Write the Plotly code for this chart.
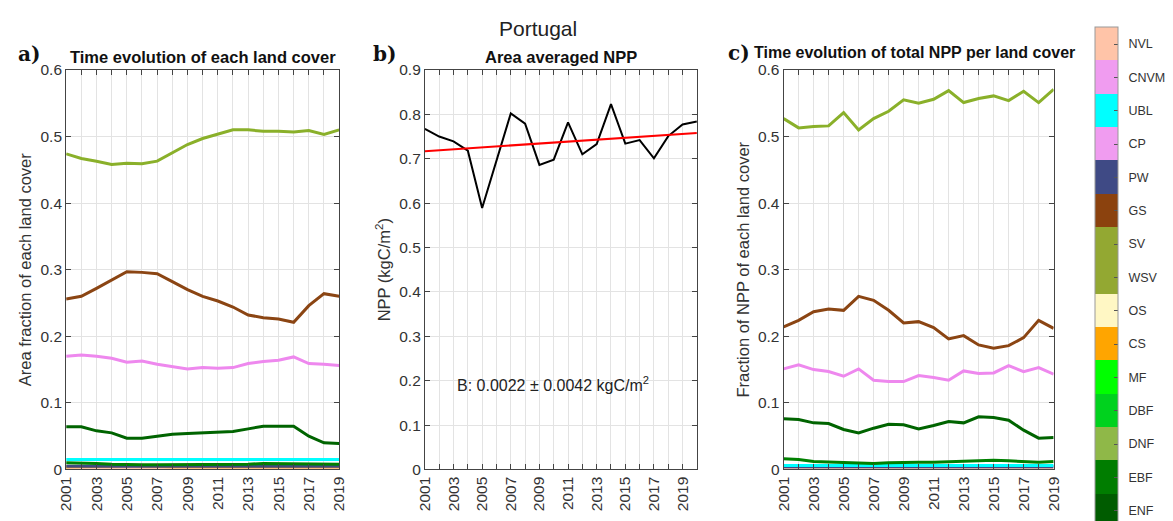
import plotly.graph_objects as go

# ---------------- data ----------------
years_a = list(range(2001, 2020))
years_b = list(range(2001, 2021))

# Panel a: area fraction of each land cover
area_sv = [0.474, 0.467, 0.463, 0.458, 0.460, 0.459, 0.463, 0.475, 0.488, 0.497,
           0.503, 0.510, 0.510, 0.508, 0.508, 0.507, 0.509, 0.503, 0.510]
area_gs = [0.256, 0.260, 0.272, 0.285, 0.297, 0.296, 0.294, 0.282, 0.270, 0.260,
           0.253, 0.244, 0.232, 0.228, 0.226, 0.221, 0.246, 0.264, 0.260]
area_cp = [0.170, 0.172, 0.170, 0.167, 0.161, 0.163, 0.158, 0.155, 0.151, 0.153,
           0.152, 0.153, 0.159, 0.162, 0.164, 0.169, 0.159, 0.158, 0.156]
area_enf = [0.064, 0.064, 0.058, 0.055, 0.047, 0.047, 0.050, 0.053, 0.054, 0.055,
            0.056, 0.057, 0.061, 0.065, 0.065, 0.065, 0.050, 0.040, 0.039]
area_ubl = [0.015, 0.015, 0.015, 0.015, 0.015, 0.015, 0.015, 0.015, 0.015, 0.015,
            0.015, 0.015, 0.015, 0.015, 0.015, 0.015, 0.015, 0.015, 0.015]
area_ebf = [0.010, 0.010, 0.009, 0.008, 0.007, 0.007, 0.007, 0.007, 0.007, 0.008,
            0.008, 0.008, 0.008, 0.009, 0.009, 0.009, 0.008, 0.008, 0.008]
area_pw = [0.005, 0.005, 0.005, 0.005, 0.005, 0.005, 0.005, 0.005, 0.005, 0.005,
           0.005, 0.005, 0.005, 0.005, 0.005, 0.005, 0.005, 0.005, 0.005]
area_cs = [0.004, 0.004, 0.004, 0.005, 0.006, 0.005, 0.004, 0.004, 0.004, 0.004,
           0.004, 0.004, 0.004, 0.004, 0.004, 0.004, 0.004, 0.004, 0.004]
area_nvl = [0.002, 0.002, 0.002, 0.002, 0.002, 0.002, 0.002, 0.002, 0.002, 0.002,
            0.002, 0.002, 0.002, 0.002, 0.002, 0.002, 0.002, 0.002, 0.002]
area_dnf = [0.000, 0.000, 0.000, 0.000, 0.000, 0.000, 0.000, 0.000, 0.000, 0.000,
            0.000, 0.000, 0.000, 0.000, 0.000, 0.000, 0.000, 0.000, 0.000]

# Panel b: area averaged NPP (kgC/m2)
npp = [0.767, 0.750, 0.739, 0.718, 0.589, 0.695, 0.802, 0.779, 0.686, 0.698,
       0.782, 0.710, 0.733, 0.823, 0.734, 0.742, 0.701, 0.751, 0.777, 0.784]
trend_years = [2001, 2020]
trend_vals = [0.717, 0.758]

# Panel c: fraction of NPP of each land cover
nppf_sv = [0.527, 0.513, 0.515, 0.516, 0.536, 0.510, 0.527, 0.538, 0.555, 0.550,
           0.556, 0.569, 0.551, 0.557, 0.561, 0.554, 0.568, 0.551, 0.571]
nppf_gs = [0.214, 0.224, 0.237, 0.241, 0.239, 0.260, 0.254, 0.239, 0.220, 0.222,
           0.213, 0.196, 0.201, 0.187, 0.182, 0.186, 0.198, 0.224, 0.212]
nppf_cp = [0.151, 0.157, 0.150, 0.147, 0.140, 0.151, 0.134, 0.132, 0.132, 0.141,
           0.138, 0.134, 0.148, 0.144, 0.145, 0.156, 0.147, 0.153, 0.143]
nppf_enf = [0.076, 0.075, 0.070, 0.069, 0.060, 0.055, 0.062, 0.068, 0.067, 0.061,
            0.066, 0.072, 0.070, 0.079, 0.078, 0.074, 0.059, 0.047, 0.048]
nppf_ebf = [0.016, 0.015, 0.012, 0.011, 0.010, 0.009, 0.009, 0.010, 0.011, 0.011,
            0.011, 0.012, 0.013, 0.013, 0.014, 0.013, 0.012, 0.011, 0.012]
nppf_ubl = [0.006, 0.006, 0.006, 0.006, 0.006, 0.006, 0.006, 0.006, 0.006, 0.006,
            0.006, 0.006, 0.006, 0.006, 0.006, 0.006, 0.006, 0.006, 0.006]
nppf_pw = [0.004, 0.004, 0.004, 0.004, 0.004, 0.004, 0.004, 0.004, 0.004, 0.004,
           0.004, 0.004, 0.004, 0.004, 0.004, 0.004, 0.004, 0.004, 0.004]
nppf_nvl = [0.001, 0.001, 0.001, 0.001, 0.001, 0.001, 0.001, 0.001, 0.001, 0.001,
            0.001, 0.001, 0.001, 0.001, 0.001, 0.001, 0.001, 0.001, 0.001]

# Colorbar classes (bottom to top)
classes = ["ENF", "EBF", "DNF", "DBF", "MF", "CS", "OS", "WSV", "SV", "GS",
           "PW", "CP", "UBL", "CNVM", "NVL"]
class_colors = ["#005C00", "#007D00", "#8FB848", "#00D21E", "#00FF00", "#FFA500",
                "#FFF7C4", "#93A832", "#93A832", "#8B420E", "#3F4A85", "#F09CF0",
                "#00FFFF", "#F09CF0", "#FFC4A8"]

col = dict(zip(classes, class_colors))
col["SV"] = "#8AB02A"
col["GS"] = "#8B4513"
col["CP"] = "#EE88EE"
col["ENF"] = "#006400"
col["EBF"] = "#008000"

# ---------------- figure ----------------
W, H = 1173, 521
fig = go.Figure()


def px_x(p):
    return p / W


def px_y(p):
    return 1 - p / H


def add_line(x, y, color, xa, ya, width=3):
    fig.add_trace(go.Scatter(x=x, y=y, mode="lines", xaxis=xa, yaxis=ya,
                             line=dict(color=color, width=width),
                             showlegend=False, hoverinfo="skip"))


# Panel a lines
for series, c in [(area_dnf, col["DNF"]), (area_nvl, col["NVL"]), (area_cs, col["CS"]),
                  (area_pw, col["PW"]), (area_ebf, col["EBF"]), (area_ubl, col["UBL"]),
                  (area_enf, col["ENF"]), (area_cp, col["CP"]), (area_gs, col["GS"]),
                  (area_sv, col["SV"])]:
    add_line(years_a, series, c, "x", "y")

# Panel b
add_line(years_b, npp, "black", "x2", "y2", width=2)
add_line(trend_years, trend_vals, "#FF0000", "x2", "y2", width=2)

# Panel c
for series, c in [(nppf_nvl, col["NVL"]), (nppf_pw, col["PW"]), (nppf_ubl, col["UBL"]),
                  (nppf_ebf, col["EBF"]), (nppf_enf, col["ENF"]), (nppf_cp, col["CP"]),
                  (nppf_gs, col["GS"]), (nppf_sv, col["SV"])]:
    add_line(years_a, series, c, "x3", "y3")

# Discrete colorbar
n = len(classes)
cscale = []
for i, c in enumerate(class_colors):
    cscale.append([i / n, c])
    cscale.append([(i + 1) / n, c])
fig.add_trace(go.Scatter(
    x=[2001], y=[-5], mode="markers", xaxis="x", yaxis="y",
    marker=dict(color=[0], cmin=-0.5, cmax=n - 0.5, colorscale=cscale, size=1,
                showscale=True,
                colorbar=dict(
                    x=px_x(1102), xanchor="left", xpad=0, ypad=0,
                    y=px_y(19), yanchor="top",
                    lenmode="pixels", len=500, thicknessmode="pixels", thickness=23,
                    tickvals=list(range(n)), ticktext=["  " + c for c in classes],
                    ticks="inside", ticklen=4, tickcolor="#555",
                    outlinecolor="#999", outlinewidth=1,
                    tickfont=dict(family="Liberation Sans", size=12.5, color="#333"))),
    showlegend=False, hoverinfo="skip"))

axis_font = dict(family="Liberation Sans", size=15.5, color="#333")
tick_text_a = [str(y) if y % 2 == 1 else "" for y in years_a]
tick_text_b = [str(y) if y % 2 == 1 else "" for y in years_b]


def xaxis(domain, rng, tickvals, ticktext, anchor):
    return dict(domain=domain, range=rng, anchor=anchor, tickvals=tickvals,
                ticktext=ticktext, tickangle=-90, ticks="inside", ticklen=5,
                tickcolor="#444", showline=True, linecolor="#444", linewidth=1,
                mirror="ticks", showgrid=True, gridcolor="#E3E3E3", gridwidth=1,
                zeroline=False, tickfont=axis_font, fixedrange=True)


def yaxis(domain, rng, anchor, title):
    return dict(domain=domain, range=rng, anchor=anchor, dtick=0.1, tick0=0,
                ticks="inside", ticklen=5, tickcolor="#444", showline=True,
                linecolor="#444", linewidth=1, mirror="ticks", showgrid=True,
                gridcolor="#E3E3E3", gridwidth=1, zeroline=False,
                tickfont=axis_font, tickformat="~g",
                title=dict(text=title, font=dict(family="Liberation Sans", size=16.5,
                                                   color="#333"), standoff=4))


ydom = [px_y(476), px_y(63)]
fig.update_layout(
    width=W, height=H, margin=dict(l=0, r=0, t=0, b=0),
    paper_bgcolor="white", plot_bgcolor="white", showlegend=False,
    xaxis=xaxis([px_x(58), px_x(335)], [2001, 2019], years_a, tick_text_a, "y"),
    yaxis=yaxis(ydom, [0, 0.6], "x", "Area fraction of each land cover"),
    xaxis2=xaxis([px_x(422), px_x(698)], [2001, 2020], years_b, tick_text_b, "y2"),
    yaxis2=yaxis(ydom, [0, 0.9], "x2", "NPP (kgC/m<sup>2</sup>)"),
    xaxis3=xaxis([px_x(786), px_x(1060)], [2001, 2019], years_a, tick_text_a, "y3"),
    yaxis3=yaxis(ydom, [0, 0.6], "x3", "Fraction of NPP of each land cover"),
)

title_font = dict(family="Liberation Sans", size=16.5, color="#111")
label_font = dict(family="DejaVu Serif", size=20, color="#111")
annots = [
    dict(text="Portugal", x=px_x(537), y=px_y(20),
         font=dict(family="Liberation Sans", size=21, color="#222")),
    dict(text="<b>Time evolution of each land cover</b>", x=px_x(197), y=px_y(50),
         font=title_font),
    dict(text="<b>Area averaged NPP</b>", x=px_x(560), y=px_y(50), font=title_font),
    dict(text="<b>Time evolution of total NPP per land cover</b>", x=px_x(919),
         y=px_y(45), font=dict(family="Liberation Sans", size=16, color="#111")),
    dict(text="<b>a)</b>", x=px_x(20), y=px_y(47), font=label_font),
    dict(text="<b>b)</b>", x=px_x(381), y=px_y(47), font=label_font),
    dict(text="<b>c)</b>", x=px_x(741), y=px_y(46), font=label_font),
    dict(text="B: 0.0022 ± 0.0042 kgC/m<sup>2</sup>", x=px_x(552), y=px_y(388),
         font=dict(family="Liberation Sans", size=16, color="#222")),
]
for a in annots:
    fig.add_annotation(xref="paper", yref="paper", showarrow=False,
                       xanchor="center", yanchor="middle", **a)

fig.write_html("out.html")
